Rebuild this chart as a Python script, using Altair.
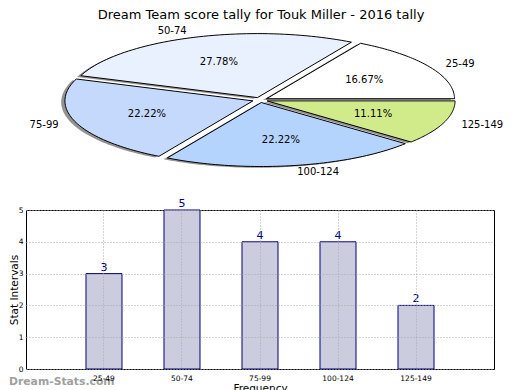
import altair as alt
import pandas as pd

# ---------------- data ----------------
categories = ["25-49", "50-74", "75-99", "100-124", "125-149"]
counts = [3, 5, 4, 4, 2]
slice_colors = ["#ffffff", "#eaf1fe", "#c5d9fd", "#b4d4fe", "#d1eb8b"]

title_text = "Dream Team score tally for Touk Miller - 2016 tally"
x_title = "Frequency"
y_title = "Stat Intervals"
watermark = "Dream-Stats.com"
y_ticks = [0, 1, 2, 3, 4, 5]

df = pd.DataFrame({"cat": categories, "count": counts,
                   "idx": list(range(len(categories)))})

# ---------------- layout constants ----------------
W = 468
PIE_H = 184
BAR_H = 159
RX = 188.0
RY = 64.0
CX = 234.0
CY = 92.0
EXPLODE = 0.04
SHADOW = -0.02
N = 60
FONT = "DejaVu Sans"

xs = alt.Scale(domain=[-CX / RX, (W - CX) / RX], nice=False, zero=False)
ys = alt.Scale(domain=[-(PIE_H - CY) / RY, CY / RY], nice=False, zero=False)

pie_base = (
    alt.Chart(df)
    .transform_joinaggregate(total="sum(count)")
    .transform_window(cum="sum(count)", sort=[alt.SortField("idx")], frame=[None, 0])
    .transform_calculate(a0="2*PI*(datum.cum - datum.count)/datum.total")
    .transform_calculate(a1="2*PI*datum.cum/datum.total")
    .transform_calculate(mid="(datum.a0 + datum.a1)/2")
    .transform_calculate(pct="datum.count/datum.total")
    .transform_calculate(ex=f"{EXPLODE}*cos(datum.mid)")
    .transform_calculate(ey=f"{EXPLODE}*sin(datum.mid)")
)

wedge_data = (
    pie_base
    .transform_calculate(k=f"sequence(0, {N + 3})")
    .transform_flatten(["k"])
    .transform_calculate(edge=f"(datum.k == 0 || datum.k == {N + 2}) ? 0 : 1")
    .transform_calculate(
        ang=f"datum.a0 + (datum.a1 - datum.a0) * min(max(datum.k - 1, 0), {N}) / {N}")
    .transform_calculate(px="datum.ex + datum.edge * cos(datum.ang)")
    .transform_calculate(py="datum.ey + datum.edge * sin(datum.ang)")
)

shadow = (
    wedge_data
    .transform_calculate(sx=f"datum.px + {SHADOW}")
    .transform_calculate(sy=f"datum.py + {SHADOW}")
    .mark_line(strokeWidth=0, interpolate="linear")
    .encode(
        x=alt.X("sx:Q", scale=xs, axis=None),
        y=alt.Y("sy:Q", scale=ys, axis=None),
        fill=alt.value("#939393"),
        detail="cat:N",
        order="k:Q",
    )
)

wedges = wedge_data.mark_line(stroke="black", strokeWidth=1, interpolate="linear").encode(
    x=alt.X("px:Q", scale=xs, axis=None),
    y=alt.Y("py:Q", scale=ys, axis=None),
    fill=alt.Fill("cat:N", scale=alt.Scale(domain=categories, range=slice_colors), legend=None),
    detail="cat:N",
    order="k:Q",
)

pct_text = (
    pie_base
    .transform_calculate(lx="datum.ex + 0.6*cos(datum.mid)")
    .transform_calculate(ly="datum.ey + 0.6*sin(datum.mid)")
    .transform_calculate(lab="format(datum.pct*100, '.2f') + '%'")
    .mark_text(fontSize=10, color="black", align="center", baseline="middle")
    .encode(x=alt.X("lx:Q", scale=xs, axis=None), y=alt.Y("ly:Q", scale=ys, axis=None),
            text="lab:N")
)

outer = (
    pie_base
    .transform_calculate(ox="datum.ex + 1.1*cos(datum.mid)")
    .transform_calculate(oy="datum.ey + 1.1*sin(datum.mid)")
)
outer_right = outer.transform_filter("cos(datum.mid) >= 0").mark_text(
    fontSize=10, color="black", align="left", baseline="middle"
).encode(x=alt.X("ox:Q", scale=xs, axis=None), y=alt.Y("oy:Q", scale=ys, axis=None),
         text="cat:N")
outer_left = outer.transform_filter("cos(datum.mid) < 0").mark_text(
    fontSize=10, color="black", align="right", baseline="middle"
).encode(x=alt.X("ox:Q", scale=xs, axis=None), y=alt.Y("oy:Q", scale=ys, axis=None),
         text="cat:N")

title = alt.Chart(pd.DataFrame({"t": [title_text]})).mark_text(
    fontSize=13, color="black", align="center", baseline="middle"
).encode(x=alt.value(235), y=alt.value(7), text="t:N")

pie = alt.layer(shadow, wedges, pct_text, outer_right, outer_left, title).properties(
    width=W, height=PIE_H, view=alt.ViewBackground(stroke=None)
)

# ---------------- bar chart ----------------
xband = alt.Scale(domain=categories, paddingInner=0.5385, paddingOuter=0.769)
grid_kw = dict(grid=True, gridDash=[1, 2], gridColor="#a8a8a8", gridWidth=1,
               ticks=False, tickSize=0, domain=False, zindex=1,
               labelColor="black", labelFontSize=7.5,
               titleFontWeight="normal", titleColor="black")

xax = alt.X("cat:N", sort=categories, scale=xband,
            axis=alt.Axis(title=x_title, labelAngle=0, labelPadding=5, titlePadding=2,
                          titleFontSize=10.5, bandPosition=0.5, **grid_kw))
yax = alt.Y("count:Q", scale=alt.Scale(domain=[0, 5], nice=False),
            axis=alt.Axis(title=y_title, values=y_ticks, format="d", labelPadding=3,
                          titleFontSize=10.5, titleX=-7, labelOverlap=False, **grid_kw))

bars = alt.Chart(df).mark_bar(fill="#ccccdf", stroke="#000080", strokeWidth=1).encode(
    x=xax, y=yax)
bar_labels = alt.Chart(df).mark_text(
    fontSize=11, color="#000080", baseline="bottom", dy=-1
).encode(x=xax, y=yax, text="count:Q")
wm = alt.Chart(pd.DataFrame({"t": [watermark]})).mark_text(
    fontSize=10.8, fontWeight="bold", color="#a0a0a0", align="left", baseline="middle"
).encode(x=alt.value(-17), y=alt.value(172), text="t:N")

bar = alt.layer(wm, bars, bar_labels).properties(
    width=W, height=BAR_H, view=alt.ViewBackground(stroke="black", strokeWidth=1)
)

chart = alt.vconcat(pie, bar, spacing=18, bounds="flush").properties(
    padding=0
).configure(font=FONT)

chart.save("out.html", embed_options={"renderer": "svg", "actions": False})
